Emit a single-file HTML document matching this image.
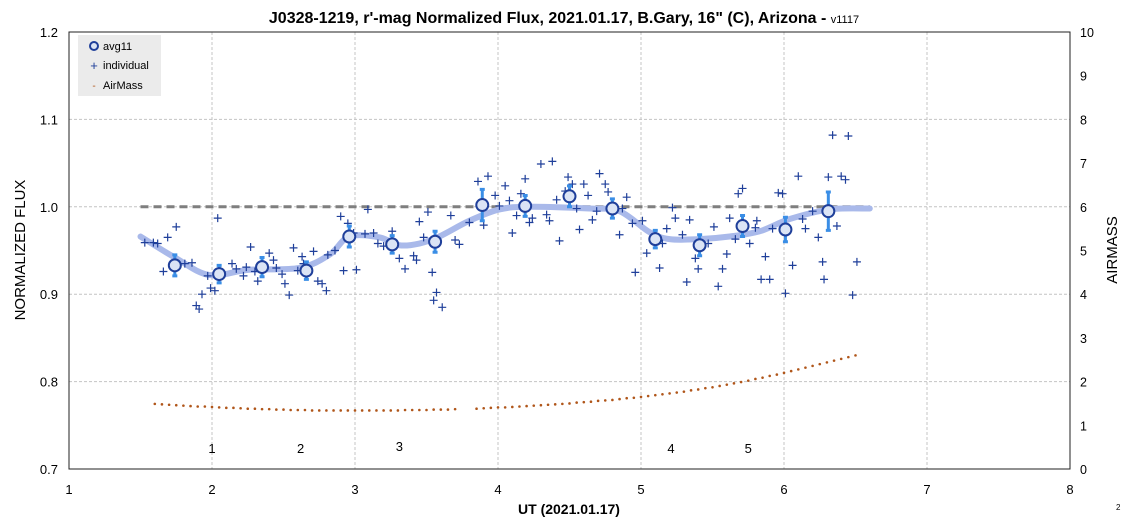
<!DOCTYPE html>
<html><head><meta charset="utf-8"><style>
body{margin:0;background:#fff;font-family:"Liberation Sans",Arial,sans-serif}
svg text{font-family:"Liberation Sans",Arial,sans-serif}
</style></head><body>
<svg id="chart" width="1128" height="524" viewBox="0 0 1128 524" xmlns="http://www.w3.org/2000/svg">
<rect width="1128" height="524" fill="#fff"/>
<g id="grid"></g>
<rect x="69" y="32" width="1001" height="437" fill="none" stroke="#222" stroke-width="1"/>
<g id="axes"></g>
<g id="marks"></g>
<text x="564" y="23" text-anchor="middle" font-size="16" font-weight="bold">J0328-1219, r'-mag Normalized Flux, 2021.01.17, B.Gary, 16" (C), Arizona - <tspan font-weight="normal" font-size="11">v1117</tspan></text>
<text x="569" y="514" text-anchor="middle" font-size="14" font-weight="bold">UT (2021.01.17)</text>
<text transform="translate(25,250) rotate(-90)" text-anchor="middle" font-size="15">NORMALIZED FLUX</text>
<text transform="translate(1117,250) rotate(-90)" text-anchor="middle" font-size="15">AIRMASS</text>
<text x="1116" y="510" font-size="8">2</text>
<g>
<rect x="78" y="35" width="83" height="61" fill="#ebebeb"/>
<circle cx="94" cy="46" r="4" fill="#dbe4f5" stroke="#1f3f9a" stroke-width="2"/>
<text x="103" y="50" font-size="11">avg11</text>
<text x="94" y="70" font-size="13" fill="#1f3f9a" text-anchor="middle">+</text>
<text x="103" y="69" font-size="11">individual</text>
<text x="94" y="89" font-size="10" fill="#b0561a" text-anchor="middle">-</text>
<text x="103" y="89" font-size="11">AirMass</text>
</g>
</svg>
<script>
const xTicks=[1,2,3,4,5,6,7,8];
const yTicks=[0.7,0.8,0.9,1.0,1.1,1.2];
const y2Ticks=[0,1,2,3,4,5,6,7,8,9,10];
const indUT=[1.53,1.59,1.62,1.69,1.75,1.66,1.81,1.86,2.04,1.97,1.93,1.99,2.02,1.89,1.91,2.14,2.17,2.22,2.24,2.27,2.32,2.30,2.40,2.43,2.45,2.49,2.51,2.54,2.57,2.63,2.64,2.71,2.60,2.74,2.77,2.80,2.81,2.86,2.90,2.95,2.92,3.01,2.99,3.07,3.13,3.09,3.16,3.20,3.26,3.31,3.35,3.41,3.43,3.45,3.51,3.48,3.54,3.57,3.55,3.61,3.67,3.70,3.73,3.80,3.86,3.93,3.90,3.98,4.01,4.05,4.08,4.16,4.19,4.13,4.10,4.30,4.38,4.49,4.47,4.52,4.60,4.71,4.75,4.77,4.63,4.41,4.34,4.24,4.36,4.22,4.43,4.57,4.66,4.69,4.55,4.90,4.85,4.87,4.94,5.01,4.96,5.04,5.13,5.15,5.18,5.22,5.24,5.29,5.34,5.32,5.38,5.40,5.47,5.51,5.54,5.57,5.60,5.62,5.68,5.71,5.66,5.76,5.81,5.80,5.87,5.84,5.90,5.92,5.96,5.99,6.01,6.06,6.10,6.13,6.15,6.20,6.24,6.27,6.28,6.31,6.34,6.45,6.40,6.43,6.37,6.51,6.48];
const indFlux=[.959,.959,.958,.965,.977,.926,.935,.936,.987,.921,.900,.907,.904,.887,.883,.935,.929,.921,.931,.954,.915,.926,.947,.939,.930,.923,.912,.899,.953,.943,.935,.949,.927,.915,.912,.904,.945,.950,.989,.981,.927,.928,.970,.969,.970,.997,.958,.955,.972,.941,.929,.944,.939,.983,.994,.965,.925,.902,.893,.885,.990,.962,.957,.982,1.029,1.035,.979,1.013,1.001,1.024,1.007,1.015,1.032,.990,.970,1.049,1.052,1.034,1.018,1.026,1.026,1.038,1.026,1.017,1.013,1.008,.991,.987,.984,.982,.961,.974,.985,.995,.998,1.011,.968,.998,.981,.984,.925,.947,.930,.958,.975,.999,.987,.968,.985,.914,.941,.929,.958,.977,.909,.929,.946,.987,1.015,1.021,.963,.958,.984,.976,.943,.917,.917,.975,1.016,1.015,.901,.933,1.035,.986,.975,.995,.965,.937,.917,1.034,1.082,1.081,1.035,1.031,.978,.937,.899];
const avgUT=[1.74,2.05,2.35,2.66,2.96,3.26,3.56,3.89,4.19,4.50,4.80,5.10,5.41,5.71,6.01,6.31];
const avgFlux=[.933,.923,.931,.927,.966,.957,.960,1.002,1.001,1.012,.998,.963,.956,.978,.974,.995];
const avgErr=[.012,.010,.011,.010,.012,.010,.012,.018,.012,.012,.011,.010,.012,.012,.014,.022];
const fitUT=[1.50,1.74,1.98,2.26,2.61,2.82,2.96,3.17,3.31,3.45,3.59,3.80,4.01,4.22,4.64,4.85,5.06,5.20,5.41,5.62,5.83,6.04,6.32,6.60];
const fitFlux=[.966,.942,.922,.928,.930,.945,.966,.965,.956,.958,.966,.984,.997,1.0,.998,.995,.971,.963,.963,.966,.972,.986,.997,.998];
const amUT=[1.6,1.65,1.7,1.75,1.8,1.85,1.9,1.95,2.0,2.05,2.1,2.15,2.2,2.25,2.3,2.35,2.4,2.45,2.5,2.55,2.6,2.65,2.7,2.75,2.8,2.85,2.9,2.95,3.0,3.05,3.1,3.15,3.2,3.25,3.3,3.35,3.4,3.45,3.5,3.55,3.6,3.65,3.7,3.85,3.9,3.95,4.0,4.05,4.1,4.15,4.2,4.25,4.3,4.35,4.4,4.45,4.5,4.55,4.6,4.65,4.7,4.75,4.8,4.85,4.9,4.95,5.0,5.05,5.1,5.15,5.2,5.25,5.3,5.35,5.4,5.45,5.5,5.55,5.6,5.65,5.7,5.75,5.8,5.85,5.9,5.95,6.0,6.05,6.1,6.15,6.2,6.25,6.3,6.35,6.4,6.45,6.5];
const amVal=[1.49,1.48,1.47,1.46,1.45,1.44,1.43,1.43,1.42,1.41,1.40,1.40,1.39,1.38,1.38,1.37,1.37,1.36,1.36,1.35,1.35,1.35,1.34,1.34,1.34,1.34,1.34,1.34,1.34,1.34,1.34,1.34,1.34,1.34,1.34,1.35,1.35,1.35,1.35,1.36,1.36,1.36,1.37,1.38,1.39,1.40,1.41,1.41,1.42,1.43,1.44,1.45,1.46,1.47,1.48,1.49,1.50,1.52,1.53,1.54,1.56,1.57,1.58,1.60,1.62,1.63,1.65,1.67,1.69,1.71,1.73,1.75,1.77,1.80,1.82,1.85,1.87,1.90,1.93,1.96,1.99,2.02,2.06,2.09,2.13,2.16,2.20,2.24,2.28,2.32,2.36,2.40,2.44,2.48,2.52,2.56,2.60];
const stars=[["1",2.0,"453"],["2",2.62,"453"],["3",3.31,"451"],["4",5.21,"453"],["5",5.75,"453"]];
const NS="http://www.w3.org/2000/svg";
const X=u=>69+(u-1)*143;
const Y=f=>469-(f-0.7)*874;
const Y2=a=>469-a*43.7;
function mk(p,t,a){const e=document.createElementNS(NS,t);for(const k in a)e.setAttribute(k,a[k]);p.appendChild(e);return e;}
const grid=document.getElementById('grid'),axes=document.getElementById('axes'),marks=document.getElementById('marks');
xTicks.forEach(t=>{
  if(t>1&&t<8){const l=mk(grid,'line',{x1:X(t),x2:X(t),y1:32,y2:469,stroke:'#c4c4c4','stroke-dasharray':'3,2'});
  
  }
  const tx=mk(axes,'text',{x:X(t),y:494,'text-anchor':'middle','font-size':13});tx.textContent=t;
  
  
});
yTicks.forEach(t=>{
  if(t>0.7&&t<1.2){const l=mk(grid,'line',{x1:69,x2:1070,y1:Y(t),y2:Y(t),stroke:'#c4c4c4','stroke-dasharray':'3,2'});
  
  }
  const tx=mk(axes,'text',{x:58,y:Y(t)+5,'text-anchor':'end','font-size':13});tx.textContent=t.toFixed(1);
  
  
});
y2Ticks.forEach(t=>{
  const tx=mk(axes,'text',{x:1080,y:Y2(t)+5,'font-size':12.5});tx.textContent=t;
  
  
});
const ref=mk(marks,'line',{x1:X(1.5),x2:X(6.6),y1:Y(1.0),y2:Y(1.0),stroke:'#7f7f7f','stroke-width':3,'stroke-dasharray':'8,5'});


let d='';const P=fitUT.map((u,i)=>[X(u),Y(fitFlux[i])]);
d='M'+P[0][0]+','+P[0][1];
for(let i=0;i<P.length-1;i++){const p0=P[Math.max(0,i-1)],p1=P[i],p2=P[i+1],p3=P[Math.min(P.length-1,i+2)];
d+=` C${p1[0]+(p2[0]-p0[0])/6},${p1[1]+(p2[1]-p0[1])/6} ${p2[0]-(p3[0]-p1[0])/6},${p2[1]-(p3[1]-p1[1])/6} ${p2[0]},${p2[1]}`;}
const fit=mk(marks,'path',{d:d,fill:'none',stroke:'#a9b9ea','stroke-width':6,'stroke-linecap':'round'});


amUT.forEach((u,i)=>{const c=mk(marks,'circle',{cx:X(u),cy:Y2(amVal[i]),r:1.3,fill:'#b0561a'});

});
indUT.forEach((u,i)=>{const x=X(u),y=Y(indFlux[i]);
const p=mk(marks,'path',{d:`M${x-4},${y}H${x+4}M${x},${y-4}V${y+4}`,stroke:'#1f3f9a','stroke-width':1.2});

});
avgUT.forEach((u,i)=>{const x=X(u),y=Y(avgFlux[i]),e=avgErr[i];
const b=mk(marks,'path',{d:`M${x},${Y(avgFlux[i]+e)}V${Y(avgFlux[i]-e)}M${x-2.5},${Y(avgFlux[i]+e)}H${x+2.5}M${x-2.5},${Y(avgFlux[i]-e)}H${x+2.5}`,stroke:'#3a8ee6','stroke-width':3});


const c=mk(marks,'circle',{cx:x,cy:y,r:6,fill:'#dbe4f5',stroke:'#1f3f9a','stroke-width':2});

});
stars.forEach(s=>{const t=mk(marks,'text',{x:X(s[1]),y:s[2],'text-anchor':'middle','font-size':13});t.textContent=s[0];

});
</script>
</body></html>
